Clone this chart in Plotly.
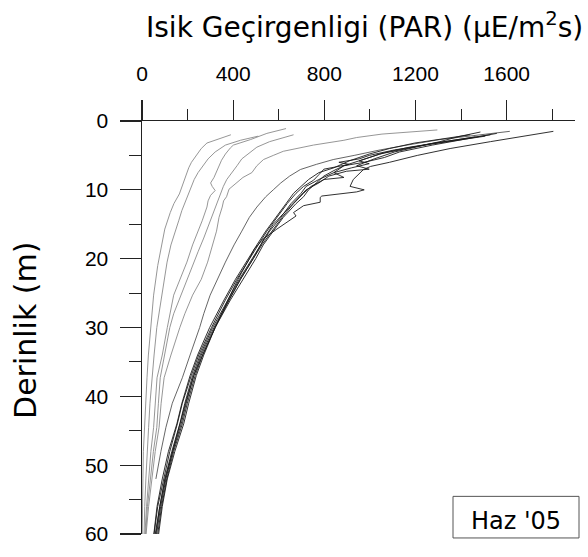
import plotly.graph_objects as go

# ---- data: PAR (µE/m2s) vs depth (m), light profiles of June 2005 ----
depth_a = [2.0, 2.6, 3.2, 4.0, 4.8, 6.0, 6.8, 8.0, 9.2, 10.6, 12, 13.3, 15.7, 18.6, 21, 25.3, 30, 34, 37.3, 41, 44.5, 48, 52, 56, 60]
par_a   = [390, 332, 285, 260, 242, 217, 205, 191, 177, 164, 140, 124, 100, 82, 69, 51, 37, 28, 22, 16, 9, 6, 4, 2, 1]

depth_x = [2.2, 2.8, 3.5, 4.5, 5.5, 6.5, 7.5, 8.5, 10, 11.5, 13, 14.5, 16, 18, 20.5, 23, 25.3, 28, 30, 34, 37.3, 41, 44.5, 48, 52, 56, 60]
par_x   = [510, 432, 366, 321, 290, 266, 246, 229, 211, 191, 175, 161, 146, 127, 110, 98, 88, 75, 65, 53, 44, 35, 29, 22, 17, 12, 9]

depth_b = [1.1, 1.8, 2.7, 3.5, 3.9, 4.8, 5.7, 7.2, 8.2, 9.0, 9.5, 10.1, 10.8, 11.6, 12.5, 14.5, 16, 18, 20.5, 23, 25.3, 30, 34, 37.3, 41, 44.5, 48, 52, 56, 60]
par_b   = [632, 548, 476, 401, 388, 366, 349, 329, 316, 301, 308, 321, 301, 290, 285, 264, 246, 222, 197, 168, 139, 111, 89, 66, 58, 51, 39, 29, 20, 13]

depth_c = [2.0, 2.5, 3.0, 3.8, 4.6, 5.5, 6.5, 7.5, 8.5, 9.5, 10.5, 11.5, 12.5, 14, 15.5, 17, 19, 21, 23, 25.3, 28, 30, 34, 37.3, 41, 44.5, 48, 52, 56, 60]
par_c   = [665, 606, 560, 504, 471, 438, 417, 393, 372, 357, 346, 332, 321, 305, 290, 271, 246, 222, 199, 168, 139, 122, 100, 80, 72, 65, 50, 37, 24, 16]

depth_f = [1.3, 1.9, 2.4, 2.8, 3.5, 4.4, 5.0, 5.6, 6.5, 7.5, 8.2, 8.9, 9.9, 11.0, 11.6, 12.5, 14, 16, 18, 20.5, 23, 25.3, 28, 30, 34, 37.3, 41, 44.5, 48, 52, 56, 60]
par_f   = [1296, 1053, 942, 886, 752, 620, 576, 533, 504, 482, 443, 417, 382, 371, 358, 352, 338, 327, 310, 288, 260, 222, 188, 166, 127, 97, 84, 75, 58, 42, 29, 18]

depth_e = [1.5, 2.0, 2.7, 3.5, 4.2, 5.0, 5.6, 6.3, 7.05, 8, 9, 10, 11, 12.5, 14, 16, 18, 20.5, 23, 25.3, 28, 30, 34, 37.3, 41, 44.5, 48, 52]
par_e   = [1614, 1474, 1307, 1163, 1045, 931, 839, 765, 695, 648, 609, 576, 543, 504, 471, 438, 404, 366, 332, 299, 271, 253, 211, 177, 133, 105, 83, 61]

depth_d1 = [1.5, 2.2, 3.0, 4.0, 5.0, 6.0, 6.6, 7.05, 8.0, 8.5, 9.5, 10.0, 10.3, 10.9, 11.1, 11.8, 12.3, 13.3, 13.8, 15.0, 15.7, 17.1, 18.6, 20, 23, 26, 30, 34, 37, 41, 44, 48, 52, 56, 60]
par_d1   = [1805, 1684, 1529, 1352, 1208, 1086, 1003, 972, 942, 927, 913, 975, 942, 789, 782, 782, 709, 665, 676, 620, 592, 533, 493, 471, 421, 377, 321, 271, 238, 205, 183, 144, 111, 89, 73]

depth_d2 = [1.8, 2.5, 3.5, 4.5, 5.3, 6.0, 6.5, 7.2, 8.0, 9, 10, 11, 12, 14, 16, 18, 20, 23, 26, 30, 34, 37, 41, 44, 48, 52, 56, 60]
par_d2   = [1557, 1440, 1274, 1130, 1064, 975, 886, 842, 798, 765, 731, 709, 676, 620, 576, 532, 499, 443, 388, 321, 266, 233, 199, 177, 139, 109, 86, 69]

depth_d3 = [2.0, 2.6, 3.3, 4.0, 4.8, 5.8, 6.2, 6.8, 7.5, 8.5, 9.5, 10.5, 12, 14, 16, 18, 20, 23, 26, 30, 34, 37, 41, 44, 48, 52, 56, 60]
par_d3   = [1529, 1396, 1263, 1163, 1042, 953, 997, 920, 842, 776, 720, 698, 654, 609, 560, 521, 482, 427, 377, 310, 255, 222, 188, 166, 131, 100, 78, 61]

depth_d4 = [2.2, 2.8, 3.5, 4.2, 5.0, 5.5, 6.0, 6.3, 7.0, 7.8, 8.6, 9.5, 10.5, 12, 14, 16, 18, 20, 23, 26, 30, 34, 37, 41, 44, 48, 52, 56, 60]
par_d4   = [1507, 1374, 1241, 1108, 997, 953, 864, 909, 798, 776, 753, 709, 676, 637, 593, 548, 510, 471, 416, 366, 305, 249, 216, 177, 155, 122, 94, 69, 53]

depth_d5 = [1.6, 2.3, 3.0, 3.8, 4.5, 5.5, 6.5, 7.0, 7.3, 8.0, 9.0, 10, 11.5, 13, 15, 17, 20, 23, 26, 30, 34, 37, 41, 44, 48, 52, 56, 60]
par_d5   = [1485, 1385, 1307, 1197, 1108, 1019, 942, 997, 897, 820, 776, 720, 676, 632, 576, 537, 488, 432, 382, 316, 260, 227, 191, 166, 133, 102, 78, 58]

depth_d6 = [2.3, 3.0, 3.8, 4.6, 5.5, 6.5, 7.5, 8.2, 8.5, 9.5, 10.5, 12, 14, 16, 18, 20, 23, 26, 30, 34, 37, 41, 44, 48, 52, 56, 60]
par_d6   = [1463, 1330, 1174, 1064, 975, 886, 842, 886, 798, 742, 709, 665, 615, 571, 526, 488, 432, 382, 321, 266, 227, 194, 172, 135, 105, 82, 64]

depth_d7 = [2.0, 2.5, 3.2, 4.0, 4.8, 5.8, 6.8, 7.5, 8.5, 9.5, 10.5, 12, 14, 16, 18, 20, 23, 26, 30, 34, 37, 41, 44, 48, 52, 56, 60]
par_d7   = [1440, 1330, 1197, 1086, 997, 909, 842, 776, 731, 698, 665, 632, 587, 543, 504, 465, 410, 360, 297, 244, 211, 175, 153, 116, 89, 66, 52]

light_profiles = [(par_a, depth_a), (par_x, depth_x), (par_b, depth_b), (par_c, depth_c), (par_f, depth_f)]
mid_profiles = [(par_e, depth_e)]
dark_profiles = [(par_d1, depth_d1), (par_d2, depth_d2), (par_d3, depth_d3), (par_d4, depth_d4),
                 (par_d5, depth_d5), (par_d6, depth_d6), (par_d7, depth_d7)]

x_ticks = [0, 400, 800, 1200, 1600]
y_ticks = [0, 10, 20, 30, 40, 50, 60]

fig = go.Figure()
for xs, ys in light_profiles:
    fig.add_trace(go.Scatter(x=xs, y=ys, mode="lines", line=dict(color="#8a8a8a", width=0.9), showlegend=False, hoverinfo="skip"))
for xs, ys in mid_profiles:
    fig.add_trace(go.Scatter(x=xs, y=ys, mode="lines", line=dict(color="#555555", width=0.9), showlegend=False, hoverinfo="skip"))
for xs, ys in dark_profiles:
    fig.add_trace(go.Scatter(x=xs, y=ys, mode="lines", line=dict(color="#1a1a1a", width=0.9), showlegend=False, hoverinfo="skip"))

L, R, T, B = 142, 13, 121, 19
W, H = 588, 557
pw, ph = W - L - R, H - T - B

def px2paper_x(px):
    return (px - L) / pw

def px2paper_y(py):
    return (H - B - py) / ph

fig.update_layout(
    width=W, height=H,
    margin=dict(l=L, r=R, t=T, b=B),
    paper_bgcolor="white", plot_bgcolor="white",
    font=dict(family="Liberation Sans, Arial, sans-serif", color="black"),
    xaxis=dict(
        side="top", range=[0, 1900], tickvals=x_ticks, ticktext=[str(v) for v in x_ticks],
        ticks="outside", ticklen=20, tickwidth=1.2, tickcolor="#222",
        minor=dict(tickmode="linear", tick0=0, dtick=200, ticks="outside", ticklen=11, tickwidth=1, tickcolor="#222"),
        showline=True, linecolor="#222", linewidth=1.5, showgrid=False, zeroline=False,
        tickfont=dict(size=21, family="Liberation Sans, Arial, sans-serif"), ticklabelstandoff=10,
    ),
    yaxis=dict(
        range=[60, 0], tickvals=y_ticks, ticktext=[str(v) for v in y_ticks],
        ticks="outside", ticklen=21, tickwidth=1.2, tickcolor="#222",
        minor=dict(tickmode="linear", tick0=0, dtick=5, ticks="outside", ticklen=12, tickwidth=1, tickcolor="#222"),
        showline=True, linecolor="#222", linewidth=1.5, showgrid=False, zeroline=False,
        tickfont=dict(size=21, family="Liberation Sans, Arial, sans-serif"), ticklabelstandoff=7,
    ),
    annotations=[
        dict(text="Isik Geçirgenligi (PAR) (µE/m<sup>2</sup>s)", xref="paper", yref="paper",
             x=px2paper_x(364), y=px2paper_y(25), xanchor="center", yanchor="middle", showarrow=False,
             font=dict(size=28, family="DejaVu Sans, Verdana, sans-serif")),
        dict(text="Derinlik (m)", xref="paper", yref="paper", textangle=-90,
             x=px2paper_x(26), y=px2paper_y(333), xanchor="center", yanchor="middle", showarrow=False,
             font=dict(size=30, family="DejaVu Sans, Verdana, sans-serif")),
        dict(text="Haz '05", xref="paper", yref="paper",
             x=px2paper_x(516), y=px2paper_y(525), xanchor="center", yanchor="middle", showarrow=False,
             font=dict(size=24, family="DejaVu Sans, Verdana, sans-serif")),
    ],
    shapes=[
        dict(type="rect", xref="paper", yref="paper",
             x0=px2paper_x(453), x1=px2paper_x(579), y0=px2paper_y(542), y1=px2paper_y(500),
             line=dict(color="#555", width=1)),
    ],
)

fig.write_html("out.html", config={"displayModeBar": False, "staticPlot": True},
               post_script="document.body.style.margin='0';")
